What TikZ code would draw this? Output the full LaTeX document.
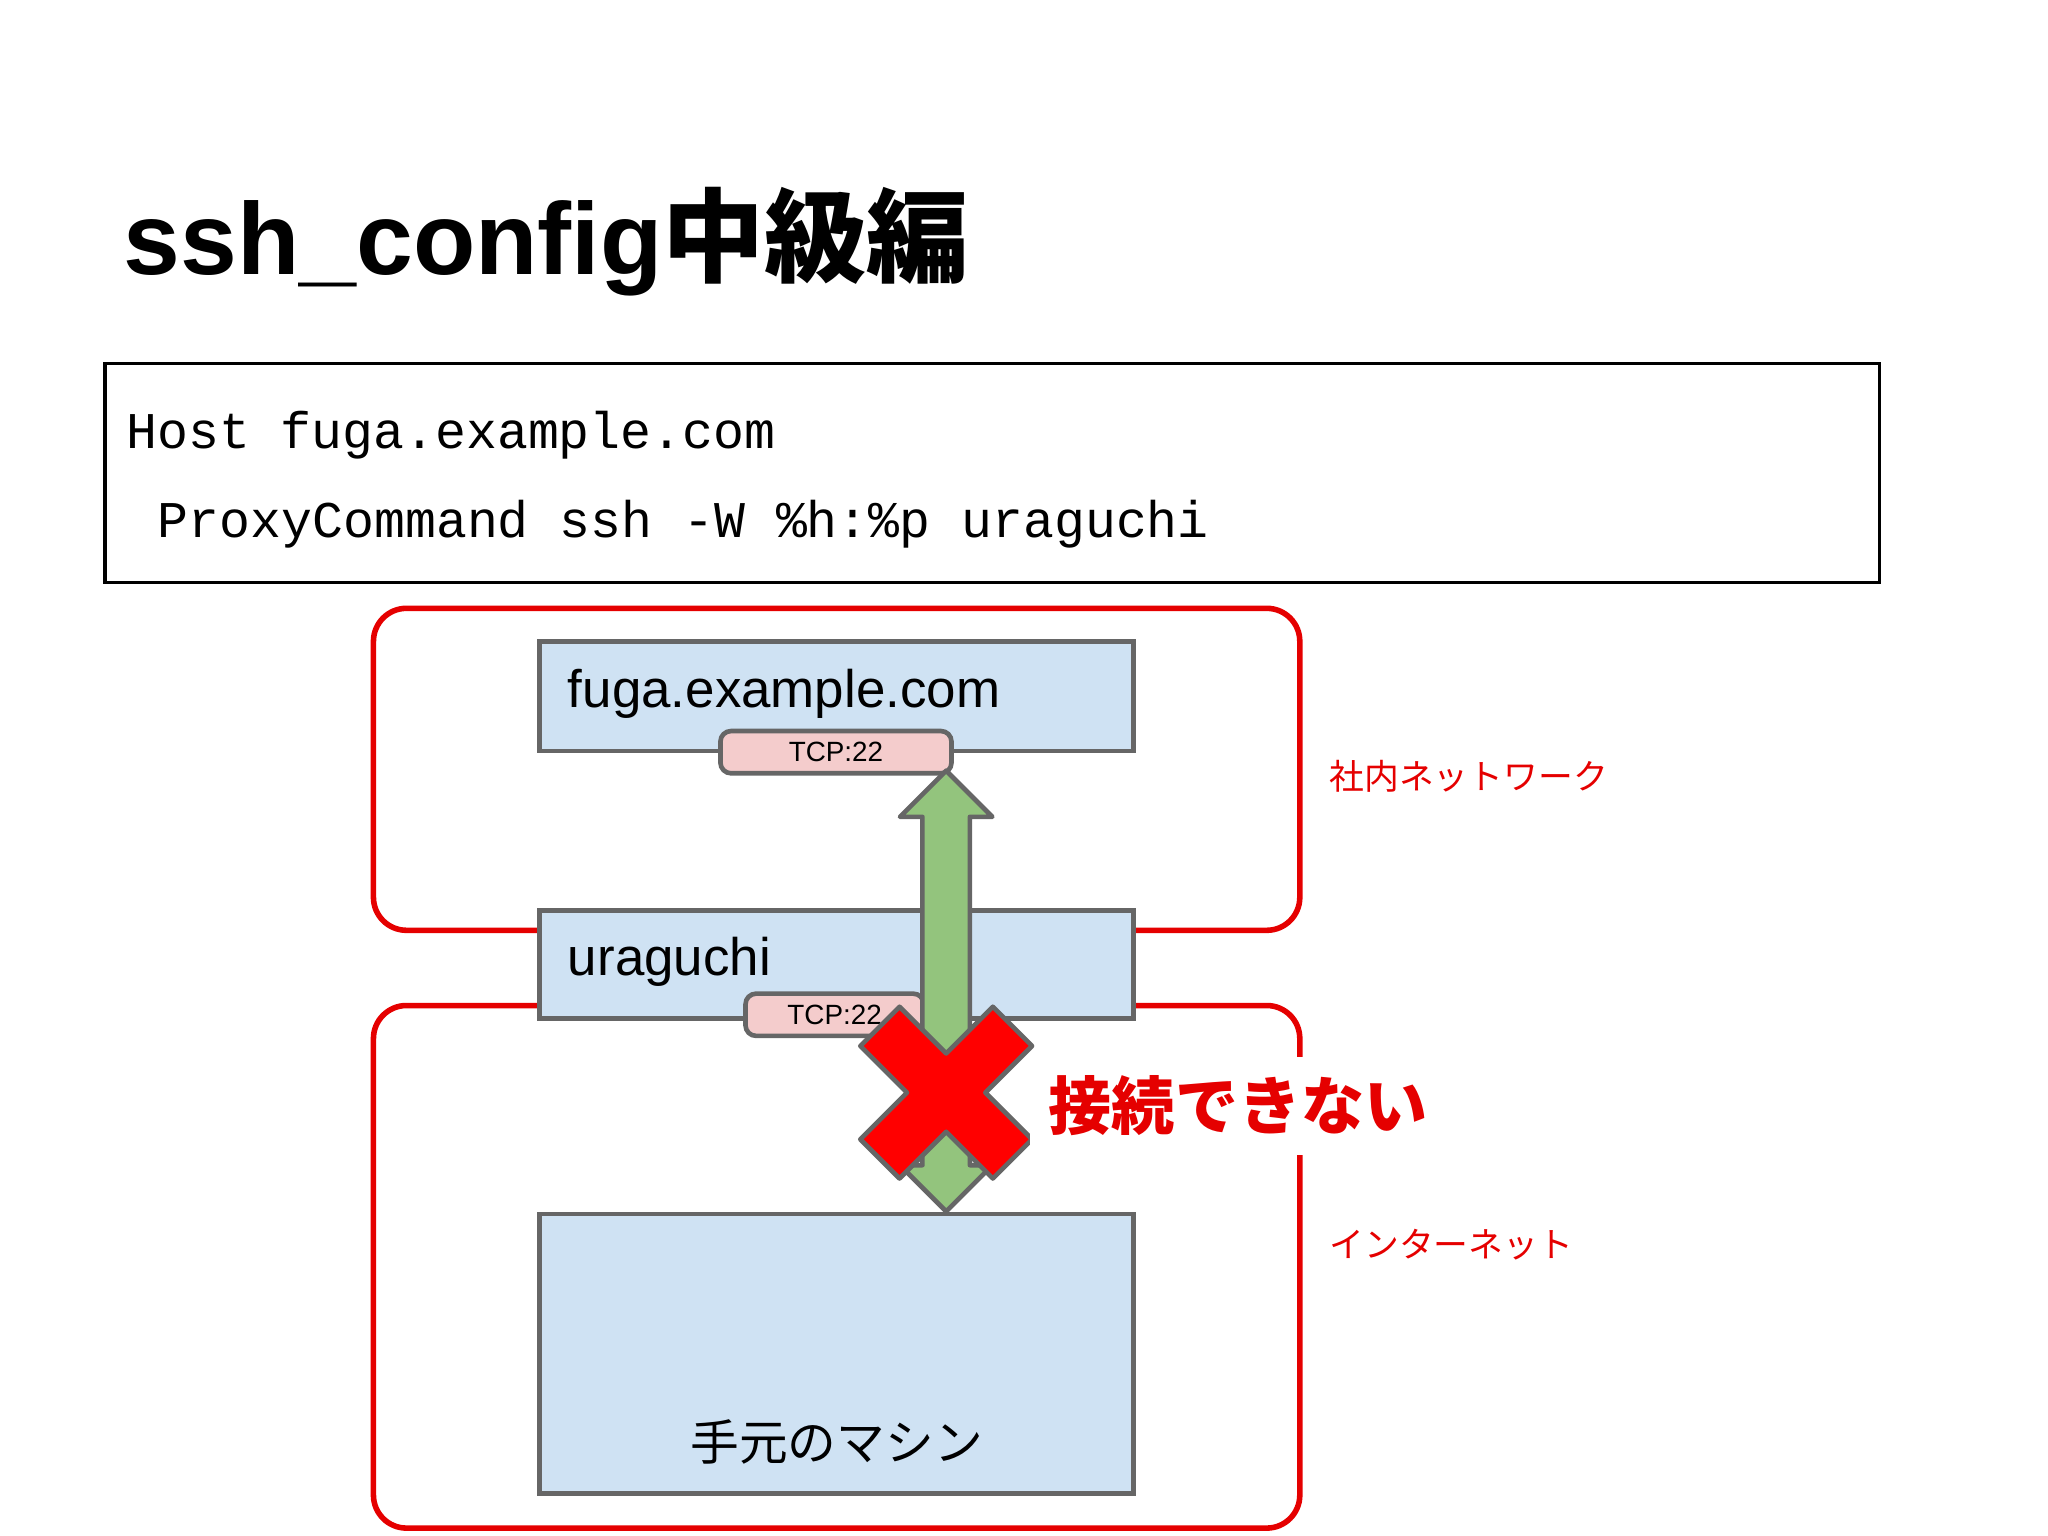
\documentclass[tikz,border=0pt]{standalone}
\usepackage{fontspec}
\setmainfont{Liberation Sans}
\setmonofont{Liberation Mono}
\newfontfamily\jp{Noto Sans CJK JP}
\begin{document}
\begin{tikzpicture}[x=0.01cm,y=-0.01cm,
  redbox/.style={draw=red!90!black,line width=1.2pt,rounded corners=0.25cm},
  hostbox/.style={draw=black!60,fill=blue!5!cyan!5!white,fill={rgb,255:red,207;green,226;blue,243},line width=1pt},
  tcp/.style={draw=black!60,fill={rgb,255:red,244;green,204;blue,204},line width=1pt,rounded corners=0.08cm,inner sep=0pt,minimum height=0.32cm,font=\fontsize{6}{7}\selectfont},
  redlabel/.style={text=red!90!black,font=\jp\fontsize{7.5}{9}\selectfont,anchor=west}]
\useasboundingbox (0,0) rectangle (1552,1164);
\node[anchor=base west,font=\bfseries\fontsize{22}{26}\selectfont,inner sep=0pt] (title) at (93,208) {ssh\_config{\jp 中級編}};
\node[draw,line width=0.8pt,minimum width=13.44cm,minimum height=1.66cm,anchor=north west] (code) at (78,274) {};
\node[anchor=base west,font=\ttfamily\fontsize{11.1}{13}\selectfont,inner sep=0pt] (l1) at (95,340) {Host fuga.example.com};
\node[anchor=base west,font=\ttfamily\fontsize{11.1}{13}\selectfont,inner sep=0pt] (l2) at (119,407) {ProxyCommand ssh -W \%h:\%p uraguchi};
% red regions
\draw[redbox] (283,461) rectangle (985,705);
\draw[redbox] (283,762) rectangle (985,1158);
\node[redlabel] (lab1) at (995,588) {社内ネットワーク};
\node[redlabel] (lab2) at (995,943) {インターネット};
% hosts
\draw[hostbox] (409,486) rectangle (859,569);
\node[anchor=west,font=\fontsize{11.4}{13}\selectfont] (fuga) at (418,526) {fuga.example.com};
\node[tcp,minimum width=1.75cm] (t1) at (633.5,570) {TCP:22};
\draw[hostbox] (409,690) rectangle (859,772);
\node[anchor=west,font=\fontsize{11.4}{13}\selectfont] (ura) at (418,729) {uraguchi};
\node[tcp,minimum width=1.35cm] (t2) at (632.5,769) {TCP:22};
\draw[hostbox] (409,920) rectangle (859,1132);
\node[font=\jp\fontsize{10.5}{12}\selectfont] (local) at (634,1093) {手元のマシン};
% green double arrow
\draw[draw=black!60,line width=1pt,fill={rgb,255:red,147;green,196;blue,125},line join=round]
  (717,584) -- (752,619) -- (735,619) -- (735,883) -- (752,883) -- (717,918) -- (682,883) -- (699,883) -- (699,619) -- (682,619) -- cycle;
% red X
\begin{scope}[shift={(717,828)},rotate=45]
\draw[draw=black!60,line width=1pt,fill=red,line join=round]
 (-21,-71) -- (21,-71) -- (21,-21) -- (71,-21) -- (71,21) -- (21,21) -- (21,71) -- (-21,71) -- (-21,21) -- (-71,21) -- (-71,-21) -- (-21,-21) -- cycle;
\end{scope}
\node[anchor=west,fill=white,text=red!90!black,font=\jp\bfseries\fontsize{13.6}{15}\selectfont,inner sep=4pt] (ng) at (780,838) {接続できない};
\end{tikzpicture}
\end{document}
